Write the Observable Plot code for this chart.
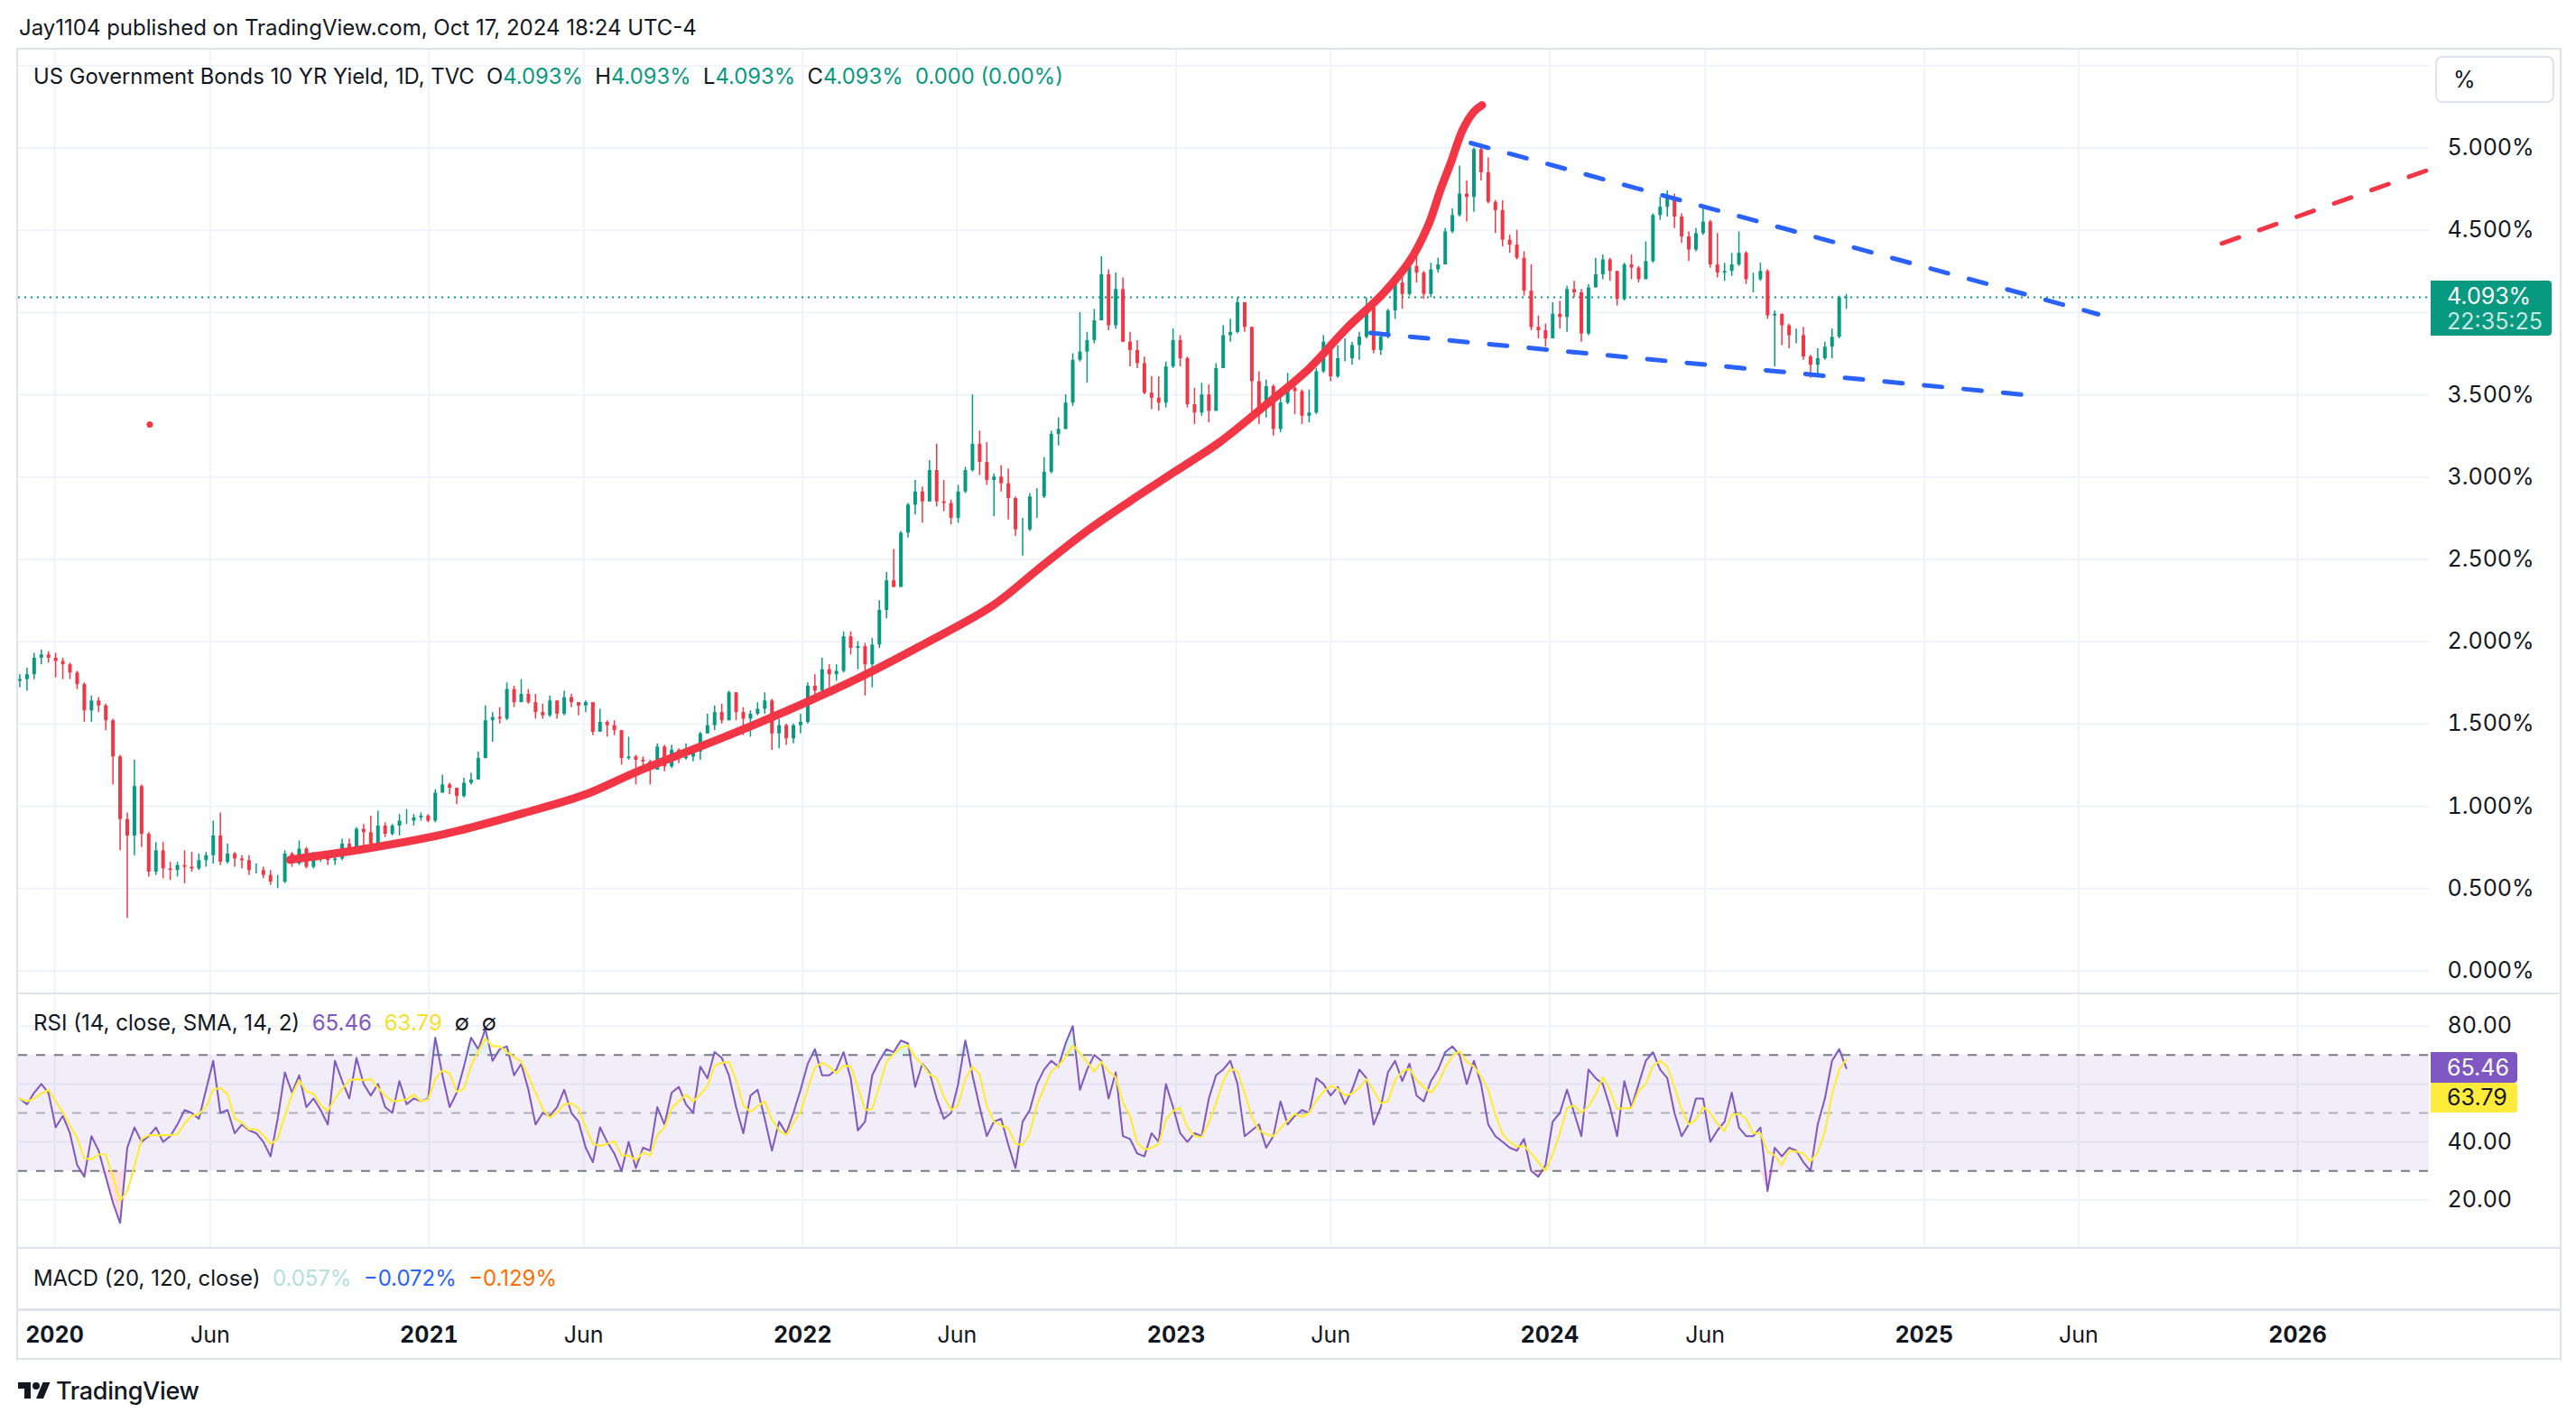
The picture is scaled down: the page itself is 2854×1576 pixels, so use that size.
<!DOCTYPE html>
<html><head><meta charset="utf-8">
<script src="https://cdn.jsdelivr.net/npm/d3@7"></script>
<script src="https://cdn.jsdelivr.net/npm/@observablehq/plot@0.6"></script>
<style>
html,body{margin:0;padding:0;background:#fff;}
body{width:2854px;height:1576px;position:relative;overflow:hidden;font-family:Inter,Roboto,"Noto Sans",sans-serif;color:#131722;}
.abs{position:absolute;white-space:nowrap;line-height:1.2;}
.vc{transform:translateY(-50%);}
.line{position:absolute;background:#E0E3EB;}
svg{position:absolute;left:0;}
</style></head><body>
<script>
// ---------------- DATA ----------------
const startDate = "2019-11-28";   // first weekly bar (Thursday), one bar per week
const firstOpen = 1.76;
const closes = [
1.77,1.80,1.90,1.92,1.90,1.88,1.86,1.81,1.74,1.58,
1.64,1.61,1.52,1.30,0.92,0.82,1.12,0.83,0.60,0.73,
0.62,0.61,0.64,0.63,0.62,0.67,0.70,0.82,0.66,0.71,
0.68,0.67,0.61,0.61,0.58,0.54,0.54,0.71,0.65,0.74,
0.63,0.68,0.69,0.67,0.68,0.77,0.73,0.86,0.84,0.77,
0.88,0.83,0.88,0.91,0.91,0.93,0.94,0.91,1.08,1.13,
1.11,1.06,1.14,1.16,1.29,1.52,1.54,1.53,1.71,1.63,
1.68,1.63,1.57,1.55,1.64,1.56,1.66,1.63,1.61,1.63,
1.45,1.51,1.49,1.46,1.29,1.30,1.28,1.27,1.22,1.36,
1.24,1.34,1.29,1.30,1.33,1.44,1.49,1.57,1.52,1.69,
1.57,1.53,1.56,1.59,1.64,1.44,1.49,1.41,1.49,1.51,
1.73,1.70,1.83,1.80,1.82,2.03,1.96,1.97,1.86,1.98,
2.19,2.37,2.33,2.66,2.83,2.91,2.85,3.04,2.85,2.84,
2.75,2.91,3.04,3.20,3.09,2.98,3.00,2.96,2.87,2.68,
2.68,2.88,2.88,3.03,3.26,3.29,3.45,3.71,3.76,3.83,
3.95,4.23,3.92,4.14,3.82,3.77,3.69,3.51,3.48,3.45,
3.67,3.83,3.72,3.44,3.39,3.50,3.40,3.66,3.86,3.88,
4.06,3.91,3.58,3.42,3.55,3.29,3.45,3.54,3.52,3.37,
3.39,3.64,3.82,3.61,3.72,3.72,3.80,3.85,4.03,3.77,
3.85,4.01,4.18,4.11,4.28,4.24,4.11,4.26,4.29,4.49,
4.59,4.72,4.70,4.99,4.85,4.67,4.62,4.44,4.41,4.33,
4.13,3.91,3.89,3.84,3.99,3.97,4.14,4.12,3.87,4.15,
4.23,4.32,4.25,4.08,4.29,4.27,4.20,4.31,4.59,4.64,
4.70,4.58,4.46,4.38,4.48,4.55,4.29,4.24,4.25,4.29,
4.36,4.20,4.20,4.25,3.98,3.99,3.92,3.86,3.86,3.73,
3.68,3.72,3.79,3.85,4.09,4.093];
const highs = [
1.80,1.84,1.93,1.95,1.94,1.93,1.90,1.87,1.82,1.75,
1.67,1.66,1.62,1.53,1.31,0.96,1.28,1.13,0.84,0.78,
0.78,0.66,0.66,0.73,0.72,0.71,0.72,0.91,0.96,0.77,
0.72,0.70,0.70,0.65,0.63,0.61,0.58,0.73,0.72,0.79,
0.75,0.72,0.71,0.70,0.70,0.80,0.80,0.87,0.89,0.94,
0.97,0.90,0.89,0.95,0.98,0.95,0.96,0.95,1.10,1.19,
1.14,1.11,1.17,1.20,1.33,1.61,1.57,1.60,1.75,1.73,
1.77,1.71,1.68,1.62,1.67,1.64,1.70,1.68,1.63,1.64,
1.58,1.59,1.52,1.52,1.46,1.42,1.31,1.30,1.28,1.38,
1.37,1.37,1.35,1.38,1.36,1.45,1.56,1.61,1.62,1.70,
1.69,1.60,1.58,1.63,1.69,1.65,1.53,1.50,1.50,1.56,
1.75,1.80,1.90,1.86,1.86,2.06,2.06,2.00,1.99,2.02,
2.25,2.42,2.56,2.67,2.84,2.98,2.94,3.10,3.20,2.98,
2.86,2.95,3.06,3.50,3.28,3.21,3.02,3.07,3.05,2.88,
2.75,2.90,2.93,3.12,3.28,3.36,3.50,3.75,4.00,3.88,
4.02,4.34,4.26,4.24,4.21,3.88,3.83,3.73,3.61,3.61,
3.70,3.90,3.86,3.73,3.54,3.57,3.56,3.69,3.92,3.96,
4.09,4.06,3.91,3.64,3.59,3.56,3.53,3.63,3.58,3.53,
3.53,3.66,3.86,3.82,3.80,3.84,3.82,3.88,4.09,4.06,
3.88,4.02,4.20,4.21,4.33,4.36,4.25,4.30,4.33,4.51,
4.63,4.89,4.80,5.00,5.02,4.94,4.68,4.68,4.47,4.50,
4.37,4.29,3.98,3.93,4.06,4.07,4.16,4.19,4.14,4.17,
4.33,4.35,4.33,4.25,4.30,4.35,4.28,4.43,4.60,4.70,
4.74,4.72,4.60,4.49,4.51,4.63,4.56,4.48,4.30,4.36,
4.49,4.37,4.24,4.30,4.26,4.01,3.99,3.93,3.90,3.91,
3.74,3.78,3.82,3.90,4.10,4.11];
const lows = [
1.72,1.70,1.77,1.86,1.87,1.78,1.77,1.77,1.71,1.51,
1.51,1.57,1.46,1.13,0.73,0.32,0.70,0.75,0.57,0.58,
0.56,0.55,0.57,0.53,0.60,0.61,0.63,0.65,0.64,0.65,
0.63,0.62,0.58,0.59,0.56,0.52,0.50,0.53,0.63,0.64,
0.62,0.62,0.66,0.64,0.64,0.67,0.71,0.72,0.76,0.73,
0.76,0.81,0.82,0.82,0.89,0.88,0.91,0.90,0.90,1.08,
1.07,1.01,1.05,1.13,1.16,1.29,1.39,1.50,1.52,1.60,
1.63,1.62,1.53,1.53,1.54,1.53,1.55,1.60,1.55,1.57,
1.43,1.45,1.42,1.43,1.25,1.28,1.13,1.22,1.13,1.22,
1.21,1.23,1.26,1.28,1.27,1.28,1.44,1.46,1.50,1.52,
1.52,1.43,1.42,1.55,1.56,1.34,1.35,1.37,1.38,1.44,
1.50,1.68,1.70,1.72,1.76,1.81,1.92,1.83,1.67,1.72,
1.96,2.14,2.33,2.33,2.63,2.77,2.72,2.85,2.82,2.79,
2.71,2.72,2.90,3.03,3.01,2.95,2.76,2.91,2.74,2.64,
2.52,2.67,2.75,2.87,3.02,3.19,3.29,3.43,3.70,3.57,
3.81,3.95,3.89,3.90,3.82,3.67,3.66,3.50,3.41,3.40,
3.42,3.66,3.67,3.42,3.32,3.37,3.33,3.40,3.66,3.82,
3.87,3.88,3.37,3.32,3.36,3.25,3.27,3.44,3.38,3.32,
3.33,3.38,3.63,3.58,3.60,3.70,3.68,3.71,3.84,3.75,
3.74,3.84,3.96,4.02,4.10,4.18,4.08,4.09,4.24,4.29,
4.48,4.58,4.55,4.61,4.80,4.66,4.48,4.40,4.36,4.32,
4.10,3.89,3.84,3.79,3.84,3.90,3.88,4.09,3.82,3.86,
4.15,4.20,4.19,4.04,4.07,4.20,4.18,4.20,4.30,4.56,
4.58,4.51,4.42,4.31,4.37,4.47,4.27,4.21,4.19,4.22,
4.28,4.17,4.12,4.19,3.96,3.67,3.80,3.78,3.81,3.71,
3.60,3.61,3.71,3.72,3.84,4.02];
const rsiValues = [
55,53,57,60,57,45,49,43,32,28,
42,37,28,19,12,38,45,40,42,45,
40,42,46,51,50,48,58,68,50,51,
43,46,44,43,40,35,48,64,57,63,
52,55,51,46,68,61,55,69,60,56,
60,52,50,61,53,55,54,55,76,63,
52,57,66,76,72,79,68,72,73,63,
67,58,46,50,49,52,58,50,47,38,
33,45,40,36,30,40,31,38,37,52,
46,57,59,53,50,66,62,71,69,63,
52,43,56,58,48,37,47,43,50,58,
67,72,63,63,65,71,62,44,47,63,
68,72,71,75,74,59,67,64,55,48,
50,60,75,63,52,42,47,48,39,31,
47,51,60,65,68,66,74,80,58,65,
70,68,55,64,42,41,36,35,43,40,
60,52,43,40,43,42,55,63,65,68,
60,42,44,46,38,42,54,46,49,51,
50,62,60,56,59,53,58,65,62,46,
52,64,68,61,67,56,54,61,65,71,
73,70,60,68,60,46,42,40,38,37,
41,30,28,32,47,50,58,50,42,65,
62,60,52,42,61,52,60,68,71,65,
62,50,42,46,55,55,40,44,47,57,
45,42,42,45,23,38,35,38,37,33,
30,46,55,68,72,65.46];
// hand-drawn red curve
const curveDates = ["2020-08-18","2020-10-29","2021-01-15","2021-04-04","2021-06-02","2021-07-23","2021-10-24","2021-12-31","2022-02-25","2022-04-28","2022-07-06","2022-08-19","2022-10-03","2022-11-16","2022-12-30","2023-02-12","2023-03-28","2023-05-11","2023-06-16","2023-07-23","2023-08-18","2023-09-05","2023-09-16","2023-09-27","2023-10-08","2023-10-19","2023-10-27"];
const curveValues = [0.675,0.74,0.83,0.96,1.07,1.21,1.44,1.62,1.78,1.98,2.22,2.44,2.66,2.85,3.03,3.21,3.43,3.66,3.90,4.12,4.32,4.54,4.74,4.92,5.11,5.22,5.26];
// trend lines
const upperDates = ["2023-10-16","2025-06-20"], upperValues = [5.03,3.99];
const lowerDates = ["2023-07-10","2025-04-10"], lowerValues = [3.876,3.50];
const projDates = ["2025-10-19","2026-05-12"], projValues = [4.42,4.874];
const dotDates = ["2020-04-03"], dotValues = [3.32];
// ticks and labels (labels hidden by the last-value tags are left out, as on the original)
const priceTicks = [0,0.5,1,1.5,2,2.5,3,3.5,4.5,5];
const priceGridTicks = [0,0.5,1,1.5,2,2.5,3,3.5,4,4.5,5,5.5];
const rsiTicks = [20,40,80];
const rsiGridTicks = [20,40,60,80];
const yearTicks = ["2020-01-01","2021-01-01","2022-01-01","2023-01-01","2024-01-01","2025-01-01","2026-01-01"];
const junTicks = ["2020-06-01","2021-06-01","2022-06-01","2023-06-01","2024-06-01","2025-06-01"];
const lastPrice = 4.093, lastRsi = 65.46, lastRsiMa = 63.79;
const countdown = "22:35:25";
</script>
<script>
const W = 2854;
const ML = 20, MR = W - 2691;
const xDomain = [new Date("2019-11-26T17:00:00Z"), new Date("2026-05-09T17:00:00Z")];
const D = s => new Date(s + "T00:00:00Z");
const t0 = D(startDate).getTime();
const candles = closes.map((c, i) => ({
  date: new Date(t0 + i * 7 * 864e5),
  open: i ? closes[i - 1] : firstOpen, close: c, high: highs[i], low: lows[i]
}));
const rsiData = rsiValues.map((r, i) => ({date: new Date(t0 + i * 7 * 864e5), rsi: r}));
const curve = curveDates.map((d, i) => ({date: D(d), v: curveValues[i]}));
const upper = upperDates.map((d, i) => ({date: D(d), v: upperValues[i]}));
const lower = lowerDates.map((d, i) => ({date: D(d), v: lowerValues[i]}));
const proj = projDates.map((d, i) => ({date: D(d), v: projValues[i]}));
const dots = dotDates.map((d, i) => ({date: D(d), v: dotValues[i]}));
const timeTicks = [...yearTicks, ...junTicks].map(D);
const GREEN = "#089981", RED = "#F23645", BLUE = "#2962FF", GRID = "#F0F3FA";
const col = d => d.close >= d.open ? GREEN : RED;
const baseStyle = {fontFamily: "Inter, Roboto, sans-serif", fontSize: "25px", color: "#131722", background: "transparent", overflow: "visible"};

// ---------- price pane ----------
const price = Plot.plot({
  width: W, height: 1046, marginLeft: ML, marginRight: MR, marginTop: 0, marginBottom: 0,
  x: {type: "utc", domain: xDomain, axis: null},
  y: {domain: [-0.1343, 5.6003], axis: null},
  style: baseStyle,
  marks: [
    Plot.gridY(priceGridTicks, {stroke: GRID, strokeOpacity: 1, strokeWidth: 2}),
    Plot.gridX(timeTicks, {stroke: GRID, strokeOpacity: 1, strokeWidth: 2}),
    Plot.axisY(priceTicks, {anchor: "right", tickSize: 0, tickPadding: 20, label: null, tickFormat: d => d.toFixed(3) + "%"}),
    Plot.ruleY([lastPrice], {stroke: GREEN, strokeWidth: 2, strokeDasharray: "2,5"}),
    Plot.ruleX(candles, {x: "date", y1: "low", y2: "high", stroke: col, strokeWidth: 1.5, clip: true}),
    Plot.ruleX(candles, {x: "date", y1: "open", y2: "close", stroke: col, strokeWidth: 4, clip: true}),
    Plot.line(curve, {x: "date", y: "v", curve: "catmull-rom", stroke: RED, strokeWidth: 9, strokeLinecap: "round", strokeLinejoin: "round"}),
    Plot.line(upper, {x: "date", y: "v", stroke: BLUE, strokeWidth: 5, strokeDasharray: "20,24"}),
    Plot.line(lower, {x: "date", y: "v", stroke: BLUE, strokeWidth: 5, strokeDasharray: "20,24"}),
    Plot.line(proj, {x: "date", y: "v", stroke: RED, strokeWidth: 5, strokeDasharray: "20,24", clip: true}),
    Plot.dot(dots, {x: "date", y: "v", r: 3.5, fill: RED, stroke: "none"})
  ]
});
price.style.top = "54px";
document.body.appendChild(price);

// ---------- RSI pane ----------
const rsi = Plot.plot({
  width: W, height: 281, marginLeft: ML, marginRight: MR, marginTop: 0, marginBottom: 0,
  x: {type: "utc", domain: xDomain, axis: null},
  y: {domain: [3.58, 91.12], axis: null},
  style: baseStyle,
  marks: [
    Plot.gridY(rsiGridTicks, {stroke: GRID, strokeOpacity: 1, strokeWidth: 2}),
    Plot.gridX(timeTicks, {stroke: GRID, strokeOpacity: 1, strokeWidth: 2}),
    Plot.rect([{a: xDomain[0], b: xDomain[1]}], {x1: "a", x2: "b", y1: 30, y2: 70, fill: "#7E57C2", fillOpacity: 0.1}),
    Plot.ruleY([70, 30], {stroke: "#787B86", strokeWidth: 2, strokeDasharray: "10,10"}),
    Plot.ruleY([50], {stroke: "#787B86", strokeOpacity: 0.55, strokeWidth: 2, strokeDasharray: "10,10"}),
    Plot.areaY(rsiData, {x: "date", y1: 30, y2: d => Math.min(d.rsi, 30), fill: RED, fillOpacity: 0.16}),
    Plot.areaY(rsiData, {x: "date", y1: 70, y2: d => Math.max(d.rsi, 70), fill: GREEN, fillOpacity: 0.12}),
    Plot.axisY(rsiTicks, {anchor: "right", tickSize: 0, tickPadding: 20, label: null, tickFormat: d => d.toFixed(2)}),
    Plot.lineY(rsiData, {x: "date", y: "rsi", stroke: "#7E57C2", strokeWidth: 2}),
    Plot.lineY(rsiData, Plot.windowY({k: 3, anchor: "end"}, {x: "date", y: "rsi", stroke: "#FFEB3B", strokeWidth: 2.2}))
  ]
});
rsi.style.top = "1101px";
document.body.appendChild(rsi);

// ---------- time axis ----------
const taxis = Plot.plot({
  width: W, height: 54, marginLeft: ML, marginRight: MR, marginTop: 27, marginBottom: 0,
  x: {type: "utc", domain: xDomain, axis: null},
  style: baseStyle,
  marks: [
    Plot.axisX(yearTicks.map(D), {anchor: "top", tickSize: 0, tickPadding: 0, lineAnchor: "middle", label: null, fontWeight: 700, tickFormat: d => String(d.getUTCFullYear())}),
    Plot.axisX(junTicks.map(D), {anchor: "top", tickSize: 0, tickPadding: 0, lineAnchor: "middle", label: null, tickFormat: () => "Jun"})
  ]
});
taxis.style.top = "1452px";
document.body.appendChild(taxis);

// ---------- frame, separators ----------
function box(l, t, w, h, cls) { const e = document.createElement("div"); e.className = cls || "line"; Object.assign(e.style, {left: l + "px", top: t + "px", width: w + "px", height: h + "px"}); document.body.appendChild(e); return e; }
box(18, 53, 2820, 2);       // top
box(18, 53, 2, 1455);       // left
box(2836, 53, 2, 1455);     // right
box(18, 1100, 2820, 2);     // price | rsi
box(18, 1382, 2820, 2);     // rsi | macd
box(18, 1450, 2820, 3);     // macd | time
box(18, 1505, 2820, 2);     // bottom

// ---------- texts ----------
function text(html, l, cy, fs, target, extra) {
  const e = document.createElement("div");
  e.className = "abs vc"; e.innerHTML = html;
  Object.assign(e.style, {left: l + "px", top: cy + "px", fontSize: fs + "px"}, extra || {});
  document.body.appendChild(e);
  if (target) { const w = e.getBoundingClientRect().width; e.style.fontSize = (fs * target / w).toFixed(2) + "px"; }
  return e;
}
const g = s => `<span style="color:${GREEN}">${s}</span>`;
text("Jay1104 published on TradingView.com, Oct 17, 2024 18:24 UTC-4", 21, 31, 24, 751);
text(`US Government Bonds 10 YR Yield, 1D, TVC&nbsp;&nbsp;O${g(lastPrice.toFixed(3) + "%")}&nbsp;&nbsp;H${g(lastPrice.toFixed(3) + "%")}&nbsp;&nbsp;L${g(lastPrice.toFixed(3) + "%")}&nbsp;&nbsp;C${g(lastPrice.toFixed(3) + "%")}&nbsp;&nbsp;${g("0.000 (0.00%)")}`, 37, 85, 24, 1141);
text(`RSI (14, close, SMA, 14, 2)&nbsp;&nbsp;<span style="color:#7E57C2">${lastRsi.toFixed(2)}</span>&nbsp;&nbsp;<span style="color:#F5E02F">${lastRsiMa.toFixed(2)}</span>&nbsp;&nbsp;∅&nbsp;&nbsp;∅`, 37, 1134, 24, 513);
text(`MACD (20, 120, close)&nbsp;&nbsp;<span style="color:#B2DFDB">0.057%</span>&nbsp;&nbsp;<span style="color:${BLUE}">−0.072%</span>&nbsp;&nbsp;<span style="color:#FF6D00">−0.129%</span>`, 37, 1417, 24, 580);

// % box
const pb = box(2698, 62, 132, 52, "abs");
Object.assign(pb.style, {border: "2px solid #E0E3EB", borderRadius: "8px", boxSizing: "border-box", fontSize: "25px", lineHeight: "48px", paddingLeft: "18px"});
pb.textContent = "%";

// last price label
const lp = box(2693, 311, 134, 61, "abs");
Object.assign(lp.style, {background: GREEN, borderRadius: "0 4px 4px 0", color: "#fff", fontSize: "25px", lineHeight: "28px", paddingLeft: "18px", paddingTop: "3px", boxSizing: "border-box"});
lp.innerHTML = `${lastPrice.toFixed(3)}%<br><span style="color:rgba(255,255,255,0.78)">${countdown}</span>`;

// RSI labels
const r1 = box(2693, 1166, 96, 34, "abs");
Object.assign(r1.style, {background: "#7E57C2", borderRadius: "0 4px 4px 0", color: "#fff", fontSize: "25px", lineHeight: "34px", paddingLeft: "18px", boxSizing: "border-box"});
r1.textContent = lastRsi.toFixed(2);
const r2 = box(2693, 1200, 96, 33, "abs");
Object.assign(r2.style, {background: "#FFEB3B", borderRadius: "0 4px 4px 0", color: "#131722", fontSize: "25px", lineHeight: "33px", paddingLeft: "18px", boxSizing: "border-box"});
r2.textContent = lastRsiMa.toFixed(2);

// TradingView logo
const logo = document.createElement("div");
logo.className = "abs";
Object.assign(logo.style, {left: "20px", top: "1527px", height: "30px", display: "flex", alignItems: "center", gap: "6px"});
logo.innerHTML = `<svg viewBox="0 0 36 28" width="36" height="28" style="position:static"><path fill="#131722" d="M14 22H7V11H0V4h14v18zM28 22h-8l7.5-18h8L28 22z"/><circle fill="#131722" cx="20" cy="8" r="4"/></svg><span style="font-size:27px;font-weight:500;letter-spacing:-0.3px">TradingView</span>`;
document.body.appendChild(logo);
</script>
</body></html>
